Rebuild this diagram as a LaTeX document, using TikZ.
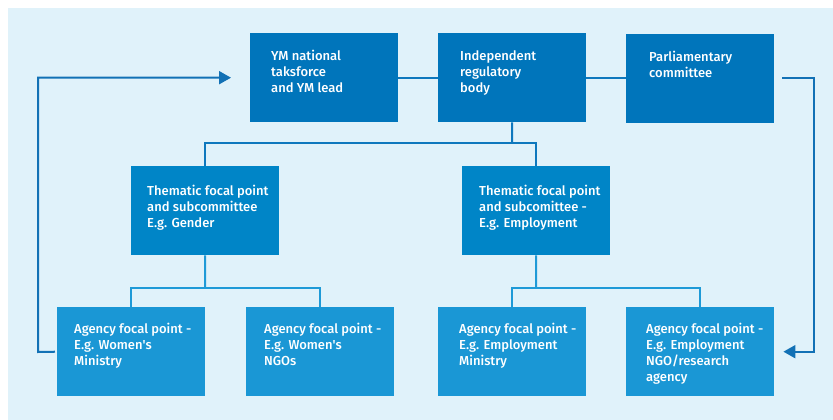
\documentclass[tikz,border=0pt]{standalone}
\usepackage{fontspec}
\setmainfont{Fira Sans}[UprightFont=* Medium]
\usetikzlibrary{arrows.meta}
\definecolor{bgc}{HTML}{E0F2FA}
\definecolor{topc}{HTML}{0075BB}
\definecolor{midc}{HTML}{0085C7}
\definecolor{botc}{HTML}{1A97D5}
\definecolor{darkline}{HTML}{0E78BD}
\definecolor{lightline}{HTML}{1E9AD7}
\definecolor{loopline}{HTML}{1271B5}
\begin{document}
\begin{tikzpicture}[x=1pt,y=-1pt,
  box/.style={draw=none, inner sep=0pt, minimum width=148pt, minimum height=89pt, anchor=north west},
  topbox/.style={box, fill=topc},
  midbox/.style={box, fill=midc},
  botbox/.style={box, fill=botc},
  txt/.style={anchor=north west, inner sep=0pt, align=left, text=white, font=\fontsize{13}{16}\selectfont},
  upline/.style={draw=darkline, line width=2pt},
  lowline/.style={draw=lightline, line width=2pt},
  loop/.style={draw=loopline, line width=2pt, -{Triangle[length=12pt,width=13pt]}}
]
\useasboundingbox (0,0) rectangle (833,420);
\fill[white] (0,0) rectangle (833,420);
\fill[bgc] (8,8) rectangle (833,420);

% top row
\node[topbox] (ym) at (250,33) {};
\node[topbox] (ind) at (438,33) {};
\node[topbox] (parl) at (626,34) {};
% middle row
\node[midbox] (tg) at (131,166) {};
\node[midbox] (te) at (462,166) {};
% bottom row
\node[botbox] (wm) at (57,307) {};
\node[botbox] (wn) at (246,307) {};
\node[botbox] (em) at (438,307) {};
\node[botbox] (en) at (626,307) {};

% texts
\node[txt] (ymt) at ([xshift=21pt,yshift=-16.5pt]ym.north west) {\strut YM national\\taksforce\\and YM lead};
\node[txt] (indt) at ([xshift=22pt,yshift=-16.5pt]ind.north west) {\strut Independent\\regulatory\\body};
\node[txt] (parlt) at ([xshift=23pt,yshift=-16pt]parl.north west) {\strut Parliamentary\\committee};
\node[txt] (tgt) at ([xshift=16pt,yshift=-18pt]tg.north west) {\strut Thematic focal point\\and subcommittee\\E.g. Gender};
\node[txt] (tet) at ([xshift=17pt,yshift=-18pt]te.north west) {\strut Thematic focal point\\and subcomittee -\\E.g. Employment};
\node[txt] (wmt) at ([xshift=17pt,yshift=-15.5pt]wm.north west) {\strut Agency focal point -\\E.g. Women\textquotesingle s\\Ministry};
\node[txt] (wnt) at ([xshift=18pt,yshift=-15.5pt]wn.north west) {\strut Agency focal point -\\E.g. Women\textquotesingle s\\NGOs};
\node[txt] (emt) at ([xshift=21pt,yshift=-15.5pt]em.north west) {\strut Agency focal point -\\E.g. Employment\\Ministry};
\node[txt] (ent) at ([xshift=20pt,yshift=-15.5pt]en.north west) {\strut Agency focal point -\\E.g. Employment\\NGO/research\\agency};

% top connectors
\coordinate (c1) at (512,143);
\path[upline] (ym.east) -- (ind.west);
\path[upline] (ind.east) -- (parl.west |- ind.east);
\path[upline] (ind.south) -- (c1);
\path[upline] (tg.north) |- (c1) -| (te.north);

% lower trees
\coordinate (c2) at (205,288);
\coordinate (c3) at (536,288);
\path[lowline] (tg.south) -- (c2);
\path[lowline] (wm.north) |- (c2) -| (wn.north);
\path[lowline] (te.south) -- (c3);
\path[lowline] (em.north) |- (c3) -| (en.north);

% feedback loops
\coordinate (l1) at (38,352);
\coordinate (r1) at (814,78);
\path[loop, shorten <=2pt, shorten >=19pt] (wm.west) -- (l1) |- (ym.west);
\path[loop, shorten <=8pt, shorten >=9pt] (parl.east |- r1) -- (r1) |- (en.east);
\end{tikzpicture}
\end{document}
